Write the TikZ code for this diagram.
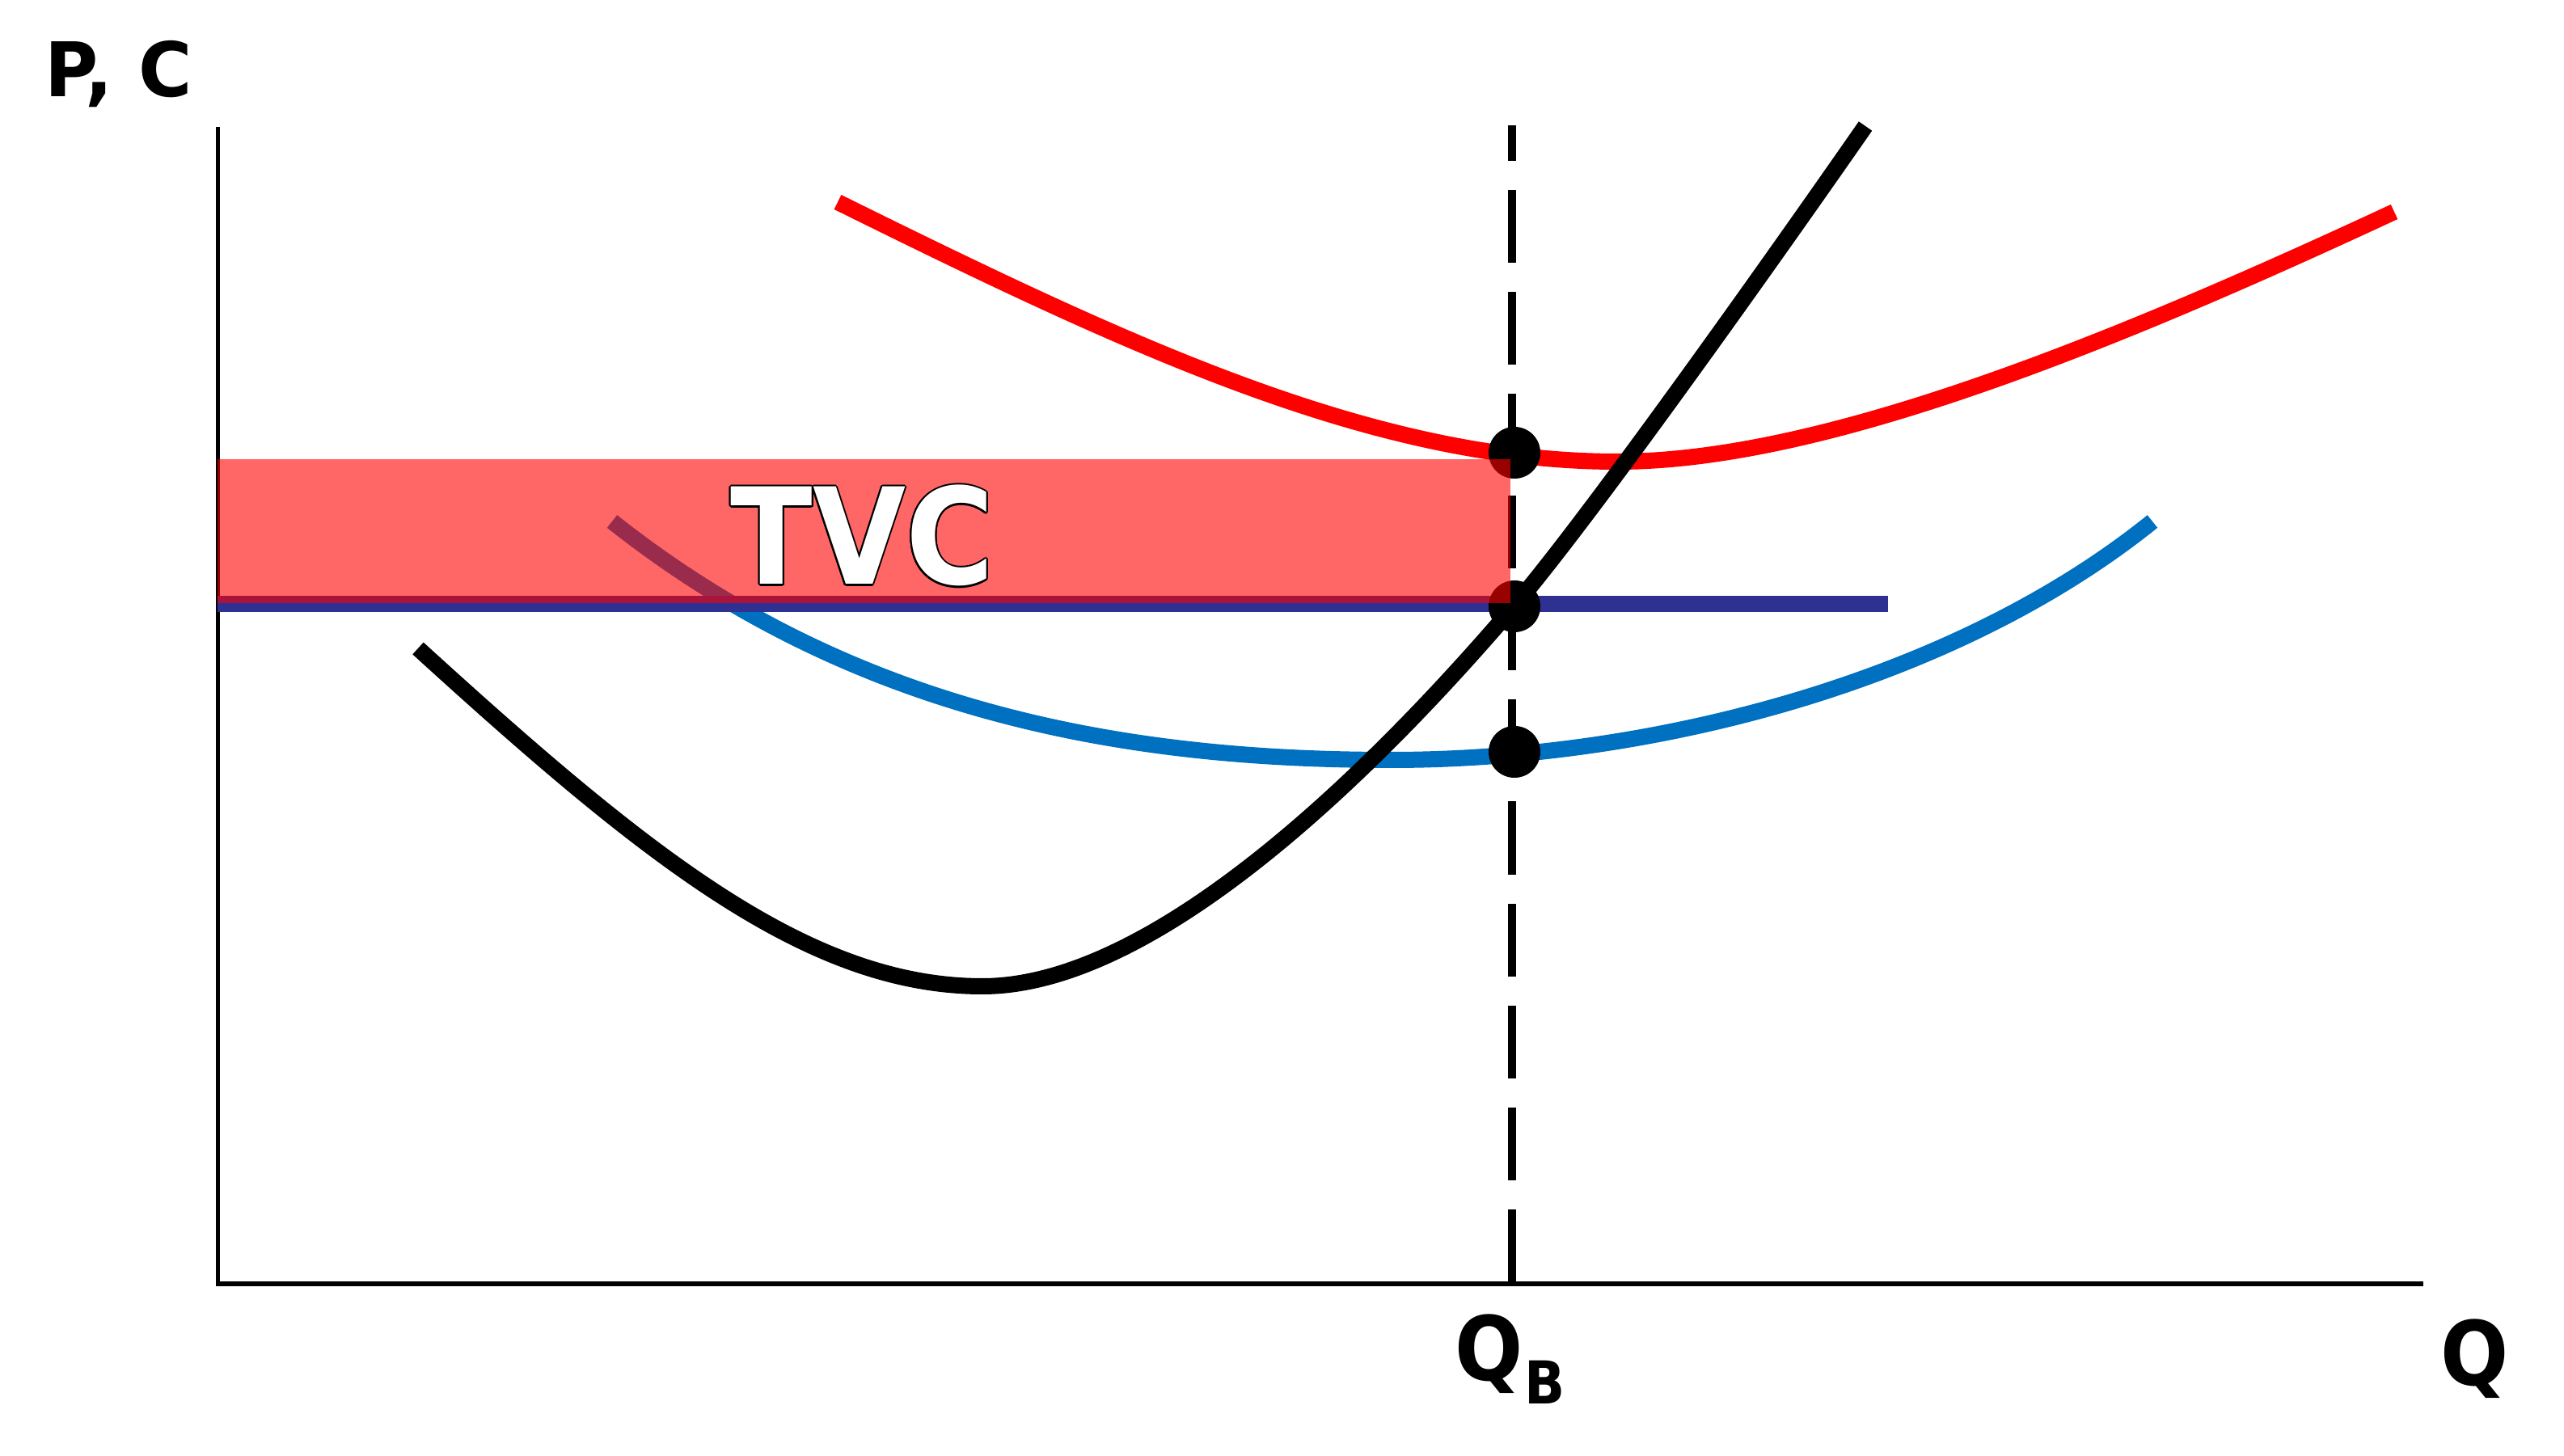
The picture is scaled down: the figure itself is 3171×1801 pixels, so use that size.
\documentclass[tikz,border=0pt]{standalone}
\usepackage{fontspec}
\setmainfont{DejaVu Sans}
\usepackage{contour}
\contourlength{0.6pt}
\definecolor{atcred}{HTML}{FF0000}
\definecolor{avcblue}{HTML}{0070C0}
\definecolor{pnavy}{HTML}{2E3192}
\newcommand{\nrw}[1]{\scalebox{0.9}[1]{#1}}
\tikzset{
  axisline/.style={line width=0.05cm, black},
  curve/.style={line width=0.2cm},
  qdash/.style={line width=0.1cm, black, dash pattern=on 0.9cm off 0.36cm, dash phase=0.46cm},
  eqdot/.style={circle, fill=black, inner sep=0pt, minimum size=0.64cm},
  lbl/.style={inner sep=0pt, anchor=base west},
}
\begin{document}
\begin{tikzpicture}[x=0.01cm, y=-0.01cm]
\useasboundingbox (0,0) rectangle (3171,1801);
% axes
\coordinate (ytop) at (269,157);
\coordinate (orig) at (269,1588);
\coordinate (xend) at (2997,1588);
\draw[axisline] (ytop) -- (orig) -- (xend);
% dashed Q_B line
\coordinate (qbtop) at (1870,155);
\coordinate (qbbot) at (1870,1588);
\draw[qdash] (qbtop) -- (qbbot);
% ATC (red)
\coordinate (atcA) at (1036,250);
\coordinate (atcM) at (2000,571);
\coordinate (atcB) at (2961,262);
\draw[curve, atcred] (atcA) .. controls (1400,430) and (1700,571) .. (atcM)
  .. controls (2250,571) and (2600,430) .. (atcB);
% AVC (blue)
\coordinate (avcA) at (757,645);
\coordinate (avcM) at (1720,940);
\coordinate (avcB) at (2662,645);
\draw[curve, avcblue] (avcA) .. controls (1060,885) and (1400,940) .. (avcM)
  .. controls (2050,940) and (2420,840) .. (avcB);
% MC (black)
\coordinate (mcA) at (517,802);
\coordinate (mcM) at (1215,1220);
\coordinate (mcP) at (1873,749);
\coordinate (mcB) at (2307,156);
\draw[curve, black] (mcA) .. controls (800,1060) and (1000,1220) .. (mcM)
  .. controls (1420,1220) and (1680,975) .. (mcP)
  .. controls (1970,635) and (2200,310) .. (mcB);
% price line
\coordinate (pl) at (269,747);
\coordinate (pr) at (2335,747);
\draw[line width=0.2cm, pnavy] (pl) -- (pr);
% dots
\node[eqdot] (datc) at (1873,560) {};
\node[eqdot] (dp) at (1873,750) {};
\node[eqdot] (davc) at (1873,930) {};
% TVC rectangle
\coordinate (r1) at (269,568);
\coordinate (r2) at (1868,746);
\fill[atcred, fill opacity=0.6] (r1) rectangle (r2);
\node[lbl, font=\fontsize{47pt}{50pt}\selectfont\bfseries] (tvc) at (903,723) {\nrw{\color{white}\contour{black}{TVC}}};
% labels
\node[lbl, font=\fontsize{26.5pt}{30pt}\selectfont\bfseries] (pc) at (55,120) {\scalebox{0.97}[1]{P, C}};
\node[lbl, font=\fontsize{31.3pt}{34pt}\selectfont\bfseries] (qb) at (1799,1708) {\nrw{Q}};
\node[lbl, font=\fontsize{20.8pt}{24pt}\selectfont\bfseries] (qbsub) at (1885,1737) {\nrw{B}};
\node[lbl, font=\fontsize{31.3pt}{34pt}\selectfont\bfseries] (q) at (3018,1713) {\nrw{Q}};
\end{tikzpicture}
\end{document}
